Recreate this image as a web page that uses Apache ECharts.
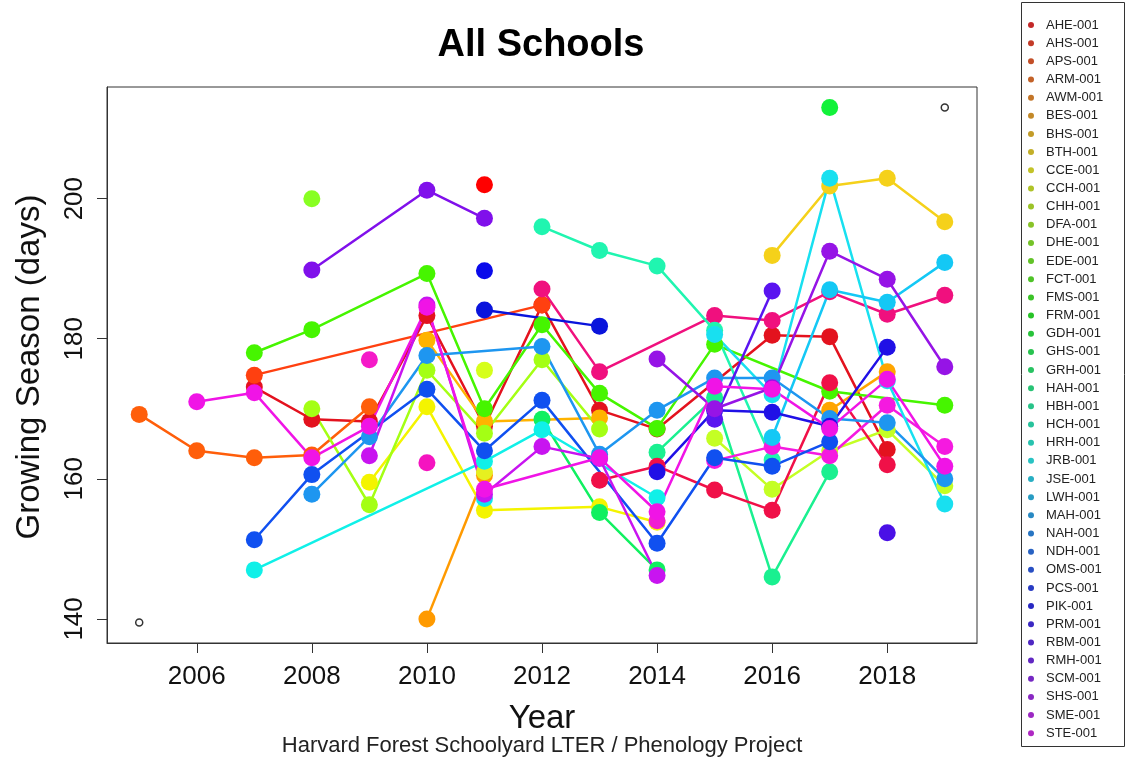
<!DOCTYPE html>
<html>
<head>
<meta charset="utf-8">
<title>All Schools – Growing Season</title>
<script src="https://cdn.jsdelivr.net/npm/echarts@6/dist/echarts.min.js"></script>
<style>
  html, body { margin: 0; padding: 0; background: #ffffff; }
  #chart { width: 1126px; height: 771px; }
</style>
</head>
<body>
<div id="chart"></div>
<script>
// School codes, in legend order
const schools = [
  'AHE-001','AHS-001','APS-001','ARM-001','AWM-001','BES-001','BHS-001','BTH-001',
  'CCE-001','CCH-001','CHH-001','DFA-001','DHE-001','EDE-001','FCT-001','FMS-001',
  'FRM-001','GDH-001','GHS-001','GRH-001','HAH-001','HBH-001','HCH-001','HRH-001',
  'JRB-001','JSE-001','LWH-001','MAH-001','NAH-001','NDH-001','OMS-001','PCS-001',
  'PIK-001','PRM-001','RBM-001','RMH-001','SCM-001','SHS-001','SME-001','STE-001'
];

// Growing season length (days) by year, one array per school: [year, days]
const ahe = [[2011,202]];
const ahs = [[2007,173.1],[2008,168.5],[2009,168.2],[2010,183.3],[2011,167.5],[2012,184.8],[2013,169.8],[2014,167.1],[2016,180.5],[2017,180.3],[2018,164.2]];
const aps = [[2005,169.2],[2006,164],[2007,163],[2008,163.4],[2009,170.3]];
const arm = [[2007,174.8],[2012,184.8]];
const awm = [[2010,140],[2011,160.5]];
const bes = [[2010,179.8],[2011,168.2],[2013,168.7]];
const bhs = [[2017,169.8],[2018,175.3]];
const bth = [[2016,191.9],[2017,201.8],[2018,202.9],[2019,196.7]];
const cce = [[2009,159.5],[2010,170.3],[2011,155.5],[2013,156],[2014,153.8]];
const cch = [[2011,175.5]];
const chh = [[2015,165.8],[2016,158.5],[2017,164],[2018,167],[2019,159]];
const dfa = [[2008,170],[2009,156.3],[2010,175.5],[2011,166.5],[2012,177],[2013,167.1]];
const dhe = [[2008,200]];
const ede = [[2011,161]];
const fct = [[2007,178],[2008,181.3],[2010,189.3],[2011,170],[2012,182],[2013,172.2],[2014,167.2],[2015,179.2],[2017,172.5],[2019,170.5]];
const fms = [[2017,213]];
const frm = [[2012,168.5],[2013,155.2],[2014,147]];
const gdh = [[2014,163.8],[2015,171.6],[2016,146],[2017,161]];
const ghs = [[2012,187.1],[2013,175.3],[2015,183.3],[2016,182.6],[2017,186.7],[2018,183.5],[2019,186.2]];
const grh = [[2012,196],[2013,192.6],[2014,190.4],[2015,181.2],[2016,162.7]];
const hah = [[2007,147],[2011,162.5],[2012,167],[2014,157.3]];
const hbh = [[2013,159.8],[2014,161.8],[2015,158.4],[2016,155.5],[2017,173.7],[2018,162]];
const hch = [[2015,162.6],[2016,164.6],[2017,163.3],[2018,170.5],[2019,164.6]];
const hrh = [[2009,177]];
const jrb = [[2015,180.6],[2016,172],[2017,202.9],[2018,174],[2019,156.4]];
const jse = [[2016,165.9],[2017,187],[2018,185.2],[2019,190.9]];
const lwh = [[2008,157.8],[2009,166],[2010,177.6],[2012,178.9],[2013,163.5],[2014,169.8],[2015,174.4],[2016,174.4],[2017,168.6],[2018,168],[2019,160]];
const mah = [[2010,162.3]];
const nah = [[2011,157.2]];
const ndh = [[2007,151.3],[2008,160.6],[2010,172.8],[2011,164],[2012,171.2],[2014,150.8],[2015,163],[2016,161.8],[2017,165.3]];
const oms = [[2014,154]];
const pcs = [[2011,184.1],[2013,181.8]];
const pik = [[2011,189.7]];
const prm = [[2014,161],[2015,169.8],[2016,169.5],[2017,167.5],[2018,178.8]];
const rbm = [[2018,152.3]];
const rmh = [[2015,168.5],[2016,186.8]];
const scm = [[2008,189.8],[2010,201.2],[2011,197.2]];
const shs = [[2014,177.1],[2015,170],[2016,173],[2017,192.5],[2018,188.5],[2019,176]];
const sme = [[2009,163.3],[2010,184.8],[2011,157.8],[2012,164.6],[2013,162.9],[2014,146.2]];
const ste = [[2006,171],[2007,172.3],[2008,163],[2009,167.5],[2010,184.5],[2011,158.5],[2013,163],[2014,155.3],[2015,173.2],[2016,172.8],[2017,167.2],[2018,174.2],[2019,161.8]];

const seasonData = [ahe,ahs,aps,arm,awm,bes,bhs,bth,cce,cch,chh,dfa,dhe,ede,fct,fms,
  frm,gdh,ghs,grh,hah,hbh,hch,hrh,jrb,jse,lwh,mah,nah,ndh,oms,pcs,pik,prm,rbm,rmh,scm,shs,sme,ste];

// Overall minimum and maximum, marked with small open circles
const rangeMarks = [[2005,139.5],[2019,213]];

// Axis ticks
const yearTicks = [2006, 2008, 2010, 2012, 2014, 2016, 2018];
const dayTicks = [140, 160, 180, 200];

// Line / point colours for each school
const lineColors = [
  '#FF0000','#E3121E','#FF5E0A','#FF4010','#FF9A00','#FFB300','#FFA500','#F5D11A',
  '#F4F400','#D6FF1A','#C4FF24','#A4FF14','#88FF22','#E6F020','#46F500','#12F23A',
  '#10F060','#1AF090','#F0107E','#20F5B0','#10F0E8','#F01048','#F51AE0','#F51AC8',
  '#18E0F0','#14C8F5','#1E96F0','#F514C0','#10E4F0','#1050F0','#F01ED2','#0A14DC',
  '#0A0AEB','#2010E6','#4A10E6','#5A14F0','#8010EB','#9614E6','#C814F0','#F014E6'
];

// Plot ranges padded by 4% on each side
const xLo = 2005, xHi = 2019;
const yLo = rangeMarks[0][1], yHi = rangeMarks[1][1];
const xPad = (xHi - xLo) * 0.04, yPad = (yHi - yLo) * 0.04;

const FONT = "'Liberation Sans', Arial, sans-serif";

const chart = echarts.init(document.getElementById('chart'), null, { renderer: 'canvas' });

const legendColor = i => 'hsl(' + (i * 7.5) + ', 66%, 46%)';

const series = seasonData.map((d, i) => ({
  name: schools[i],
  type: 'line',
  data: d,
  symbol: 'circle',
  symbolSize: 17,
  showSymbol: true,
  lineStyle: { width: 2.5, color: lineColors[i] },
  itemStyle: { color: lineColors[i] },
  emphasis: { disabled: true },
  z: 2
}));

series.push({
  name: 'range',
  type: 'scatter',
  data: rangeMarks,
  symbol: 'circle',
  symbolSize: 7,
  itemStyle: { color: '#ffffff', borderColor: '#000000', borderWidth: 1.5 },
  emphasis: { disabled: true },
  z: 3
});

chart.setOption({
  animation: false,
  backgroundColor: '#ffffff',
  grid: { left: 107, right: 149, top: 87, bottom: 128, show: true, borderColor: '#333333', borderWidth: 1, backgroundColor: 'transparent' },
  xAxis: {
    type: 'value',
    min: xLo - xPad,
    max: xHi + xPad,
    axisLine: { show: true, lineStyle: { color: '#333333', width: 1 } },
    axisTick: { show: true, inside: false, length: 10, customValues: yearTicks, lineStyle: { color: '#333333' } },
    axisLabel: { customValues: yearTicks, margin: 21, fontSize: 26, color: '#111111', fontFamily: FONT, formatter: v => String(v) },
    splitLine: { show: false }
  },
  yAxis: {
    type: 'value',
    min: yLo - yPad,
    max: yHi + yPad,
    axisLine: { show: true, lineStyle: { color: '#333333', width: 1 } },
    axisTick: { show: true, inside: false, length: 10, customValues: dayTicks, lineStyle: { color: '#333333' } },
    axisLabel: { customValues: dayTicks, rotate: 90, margin: 19, fontSize: 26, color: '#111111', fontFamily: FONT },
    splitLine: { show: false }
  },
  legend: {
    orient: 'vertical',
    left: 1028,
    top: 18,
    padding: 0,
    icon: 'circle',
    itemWidth: 20,
    itemHeight: 6,
    itemGap: 4.16,
    selectedMode: false,
    textStyle: { fontSize: 13, lineHeight: 14, color: '#222222', fontFamily: FONT, padding: [0, 0, 0, 0] },
    data: schools.map((s, i) => ({ name: s, itemStyle: { color: legendColor(i) } }))
  },
  graphic: [
    { type: 'rect', silent: true, shape: { x: 1021.5, y: 2.5, width: 103, height: 744 },
      style: { fill: 'none', stroke: '#333333', lineWidth: 1 } },
    { type: 'text', silent: true, x: 541, y: 46,
      style: { text: 'All Schools', font: 'bold 38px ' + FONT, fill: '#000000', textAlign: 'center', textVerticalAlign: 'middle' } },
    { type: 'text', silent: true, x: 30, y: 367, rotation: Math.PI / 2,
      style: { text: 'Growing Season (days)', font: '33px ' + FONT, fill: '#111111', textAlign: 'center', textVerticalAlign: 'middle' } },
    { type: 'text', silent: true, x: 542, y: 719,
      style: { text: 'Year', font: '33px ' + FONT, fill: '#111111', textAlign: 'center', textVerticalAlign: 'middle' } },
    { type: 'text', silent: true, x: 542, y: 746,
      style: { text: 'Harvard Forest Schoolyard LTER / Phenology Project', font: '22px ' + FONT, fill: '#222222', textAlign: 'center', textVerticalAlign: 'middle' } }
  ],
  series: series
});
</script>
</body>
</html>
